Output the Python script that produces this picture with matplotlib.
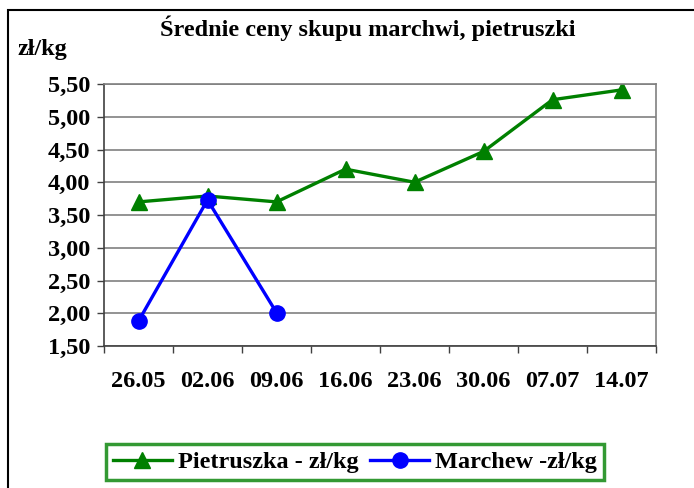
import matplotlib
matplotlib.use("Agg")
import matplotlib.pyplot as plt
from matplotlib.patches import Rectangle
from matplotlib.ticker import FixedLocator, FuncFormatter

# data
dates = ["26.05", "02.06", "09.06", "16.06", "23.06", "30.06", "07.07", "14.07"]
pietruszka = [3.70, 3.79, 3.70, 4.20, 4.00, 4.47, 5.26, 5.41]
marchew = [1.88, 3.73, 2.01]
y_ticks = [1.5, 2.0, 2.5, 3.0, 3.5, 4.0, 4.5, 5.0, 5.5]

plt.rcParams["font.family"] = ["Liberation Serif", "DejaVu Serif"]
plt.rcParams["font.weight"] = "bold"
FS = 17.5

fig = plt.figure(figsize=(6.94, 4.88), dpi=100)
ax = fig.add_axes([104 / 694, 1 - 346 / 488, 552 / 694, 262 / 488])

x = list(range(len(dates)))
ax.plot(x, pietruszka, "-^", color="#008000", lw=2.4, ms=12,
        label="Pietruszka - zł/kg")
ax.plot(x[:len(marchew)], marchew, "-o", color="#0000ff", lw=2.4, ms=11,
        label="Marchew -zł/kg")

ax.set_xlim(-0.5, len(dates) - 0.5)
ax.set_ylim(1.5, 5.5)
ax.set_yticks(y_ticks)
ax.yaxis.set_major_formatter(FuncFormatter(lambda v, p: f"{v:.2f}".replace(".", ",")))
ax.set_xticks(x)
ax.set_xticklabels(dates)
ax.xaxis.set_minor_locator(FixedLocator([i + 0.5 for i in range(-1, len(dates))]))
ax.tick_params(axis="x", which="major", length=0, pad=18, labelsize=FS)
ax.tick_params(axis="x", which="minor", length=5, width=1, color="#404040")
ax.tick_params(axis="y", length=5, width=1, color="#404040", pad=5, labelsize=FS)
ax.grid(axis="y", color="#808080", lw=1.2)
ax.set_axisbelow(True)
for s in ax.spines.values():
    s.set_color("#808080")
    s.set_linewidth(1.2)
ax.spines["left"].set_color("#404040")
ax.spines["bottom"].set_color("#404040")

fig.text(368 / 694, 1 - 28 / 488, "Średnie ceny skupu marchwi, pietruszki",
         ha="center", va="center", fontsize=FS, fontweight="bold")
fig.text(17 / 694, 1 - 50 / 488, "zł/kg", ha="left", va="center",
         fontsize=FS, fontweight="bold")

leg = fig.legend(loc="center", bbox_to_anchor=(355 / 694, 1 - 462 / 488),
                 ncol=2, frameon=True, fancybox=False, fontsize=FS,
                 handlelength=2.4, columnspacing=0.5, handletextpad=0.25,
                 borderpad=0.3, borderaxespad=0)
leg.get_frame().set_edgecolor("#008000")
leg.get_frame().set_linewidth(2.5)

fig.patches.append(Rectangle((8 / 694, -0.1), 1.0, 1.1 - 10 / 488,
                             transform=fig.transFigure, fill=False,
                             edgecolor="black", lw=1.5))

fig.savefig("out.png", dpi=100)
